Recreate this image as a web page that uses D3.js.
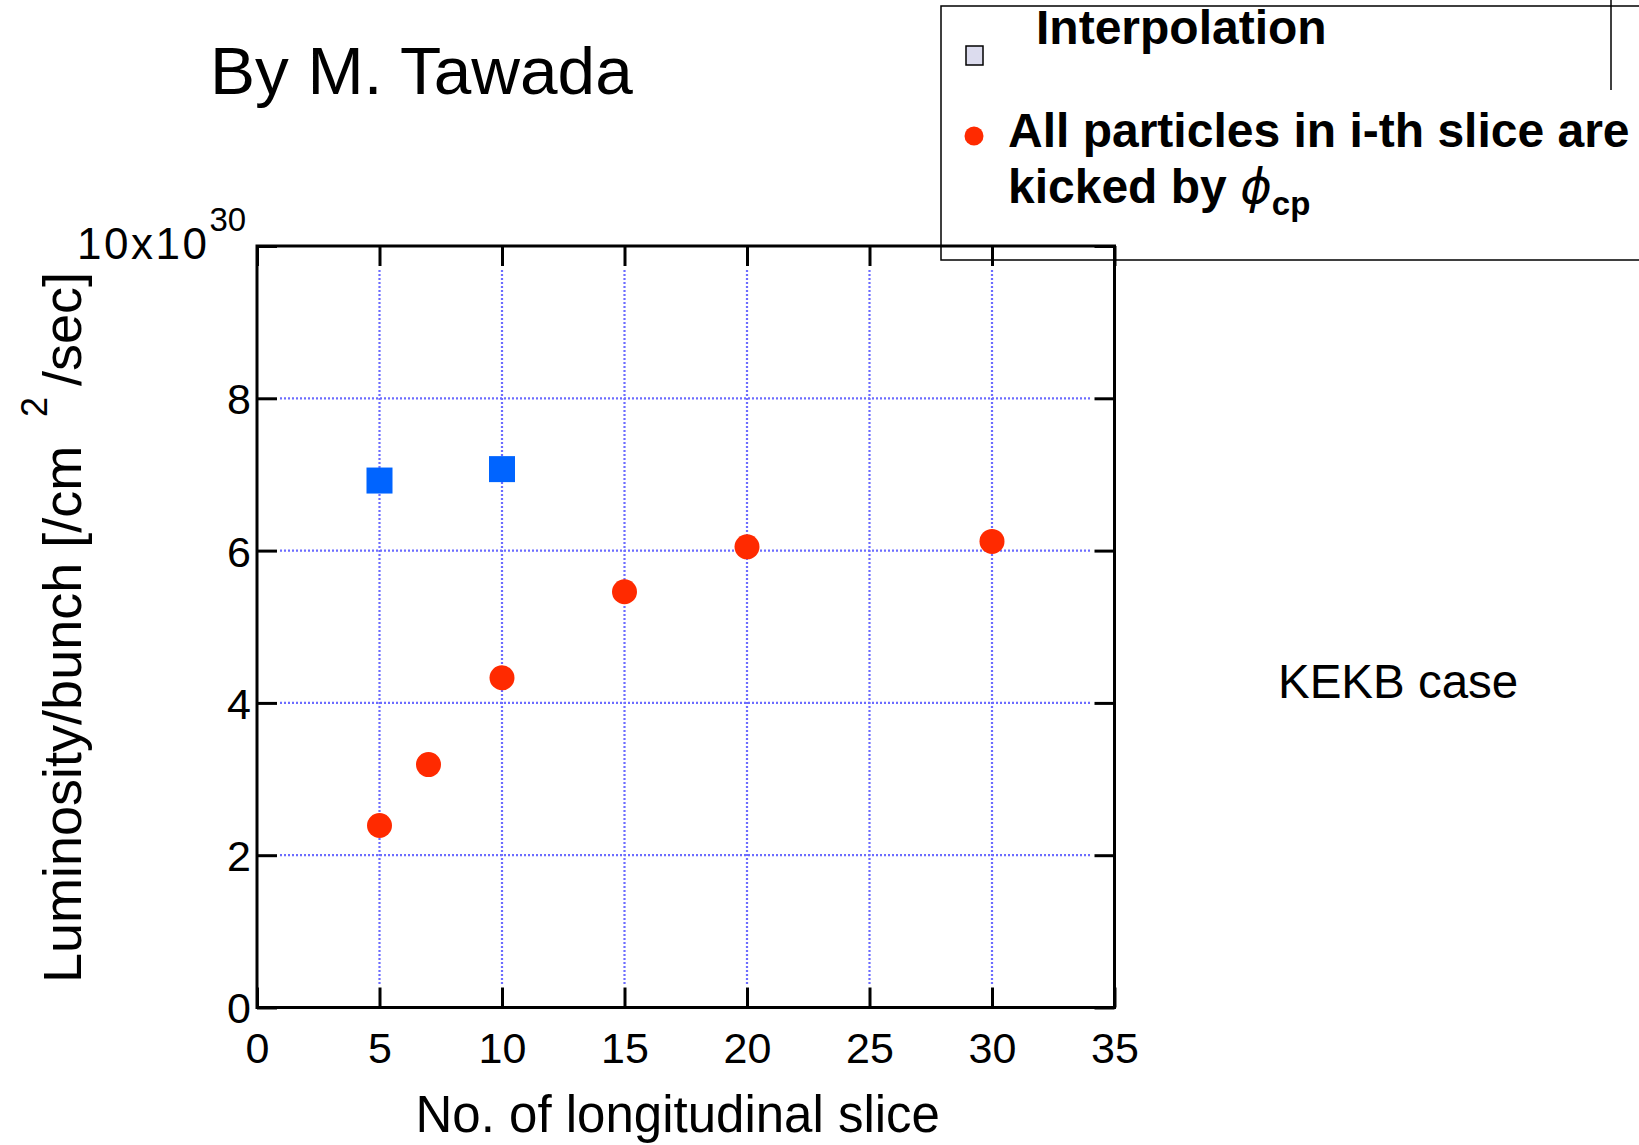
<!DOCTYPE html>
<html>
<head>
<meta charset="utf-8">
<script src="https://cdn.jsdelivr.net/npm/d3@7"></script>
<style>
  html, body { margin: 0; padding: 0; background: #fff; }
  svg { display: block; }
  text { font-family: "Liberation Sans", Arial, sans-serif; fill: #000; }
</style>
</head>
<body>
<svg id="chart" width="1639" height="1145"></svg>
<script>
// ---- data ----
const xTickValues = [0, 5, 10, 15, 20, 25, 30, 35];
const yTickValues = [0, 2, 4, 6, 8, 10];
const yTickLabels = ["0", "2", "4", "6", "8", ""];
const xDomain = [0, 35];
const yDomain = [0, 10];

const interpX = [5, 10];
const interpY = [6.92, 7.07];

const kickX = [5, 7, 10, 15, 20, 30];
const kickY = [2.39, 3.19, 4.33, 5.46, 6.05, 6.12];

const titleText = "By M. Tawada";
const caseText = "KEKB case";
const xLabel = "No. of longitudinal slice";
const yLabelMain = "Luminosity/bunch [/cm";
const yLabelSup = "2";
const yLabelEnd = "/sec]";
const legendInterp = "Interpolation";
const legendKick1 = "All particles in i-th slice are";
const legendKick2 = "kicked by ";

// ---- layout ----
const svg = d3.select("#chart");
const L = 257, R = 1114.5, T = 246, B = 1007.5;
const x = d3.scaleLinear().domain(xDomain).range([L, R]);
const y = d3.scaleLinear().domain(yDomain).range([B, T]);
const tickLen = 20;
const blue = "#0064ff", red = "#ff2a00", grid = "#6c6cff";

svg.append("rect").attr("width", 1639).attr("height", 1145).attr("fill", "#fff");

// legend box (drawn first, plot frame overlays)
const lg = svg.append("g");
lg.append("rect").attr("x", 941).attr("y", 6).attr("width", 760).attr("height", 254)
  .attr("fill", "#fff").attr("stroke", "#000").attr("stroke-width", 1.5);
lg.append("line").attr("x1", 1611).attr("x2", 1611).attr("y1", 0).attr("y2", 90)
  .attr("stroke", "#000").attr("stroke-width", 1.5);
lg.append("rect").attr("x", 966).attr("y", 46).attr("width", 17).attr("height", 19)
  .attr("fill", "#dcdcee").attr("stroke", "#000").attr("stroke-width", 1.5);
lg.append("circle").attr("cx", 974).attr("cy", 136).attr("r", 9.5).attr("fill", red);
lg.append("text").attr("x", 1036).attr("y", 44).attr("font-size", 48).attr("font-weight", "bold").text(legendInterp);
lg.append("text").attr("x", 1008).attr("y", 147).attr("font-size", 48).attr("font-weight", "bold").text(legendKick1);
const k2 = lg.append("text").attr("x", 1008).attr("y", 203).attr("font-size", 48).attr("font-weight", "bold");
k2.append("tspan").text(legendKick2);
k2.append("tspan").attr("font-weight", "normal").attr("font-style", "italic").attr("font-family", "DejaVu Sans, sans-serif").text("\u03D5");
k2.append("tspan").attr("font-size", 33).attr("dy", 12).text("cp");

// gridlines
const gg = svg.append("g").attr("stroke", grid).attr("stroke-width", 2.2).attr("stroke-dasharray", "2,2");
gg.selectAll("line.v").data(xTickValues.filter(d => d > xDomain[0] && d < xDomain[1])).join("line")
  .attr("x1", d => x(d)).attr("x2", d => x(d))
  .attr("y1", T + tickLen + 4).attr("y2", B - tickLen - 3);
gg.selectAll("line.h").data(yTickValues.filter(d => d > yDomain[0] && d < yDomain[1])).join("line")
  .attr("y1", d => y(d)).attr("y2", d => y(d))
  .attr("x1", L + tickLen + 3).attr("x2", R - tickLen - 3);

// axes with inward ticks
const axisStyle = g => {
  g.select(".domain").remove();
  g.selectAll(".tick line").attr("stroke", "#000").attr("stroke-width", 3);
};
svg.append("g").attr("transform", `translate(0,${B})`)
  .call(d3.axisBottom(x).tickValues(xTickValues).tickSizeInner(-tickLen).tickSizeOuter(0).tickPadding(0).tickFormat(d3.format("d")))
  .call(axisStyle)
  .call(g => g.selectAll(".tick text").attr("font-size", 43).attr("font-family", "Liberation Sans, Arial, sans-serif")
    .attr("fill", "#000").attr("dy", null).attr("y", 55));
svg.append("g").attr("transform", `translate(0,${T})`)
  .call(d3.axisTop(x).tickValues(xTickValues).tickSizeInner(-tickLen).tickSizeOuter(0).tickFormat(""))
  .call(axisStyle);
svg.append("g").attr("transform", `translate(${L},0)`)
  .call(d3.axisLeft(y).tickValues(yTickValues).tickSizeInner(-tickLen).tickSizeOuter(0).tickPadding(0)
    .tickFormat((d, i) => yTickLabels[i]))
  .call(axisStyle)
  .call(g => g.selectAll(".tick text").attr("font-size", 43).attr("font-family", "Liberation Sans, Arial, sans-serif")
    .attr("fill", "#000").attr("x", -6).attr("dy", "0.36em"));
svg.append("g").attr("transform", `translate(${R},0)`)
  .call(d3.axisRight(y).tickValues(yTickValues).tickSizeInner(-tickLen).tickSizeOuter(0).tickFormat(""))
  .call(axisStyle);

// frame
svg.append("rect").attr("x", L).attr("y", T).attr("width", R - L).attr("height", B - T)
  .attr("fill", "none").attr("stroke", "#000").attr("stroke-width", 3);

// markers
const sq = 26;
svg.append("g").selectAll("rect").data(interpX.map((d, i) => [d, interpY[i]])).join("rect")
  .attr("x", d => x(d[0]) - sq / 2).attr("y", d => y(d[1]) - sq / 2)
  .attr("width", sq).attr("height", sq).attr("fill", blue);
svg.append("g").selectAll("circle").data(kickX.map((d, i) => [d, kickY[i]])).join("circle")
  .attr("cx", d => x(d[0])).attr("cy", d => y(d[1])).attr("r", 12.5).attr("fill", red);

// y scale multiplier label
const mult = svg.append("text").attr("x", 77).attr("y", 259).attr("font-size", 44);
mult.append("tspan").attr("letter-spacing", 2.5).text("10x10");
mult.append("tspan").attr("font-size", 33).attr("dy", -28).attr("dx", 0).text("30");

// axis titles
svg.append("text").attr("x", (L + R) / 2 - 8).attr("y", 1132).attr("text-anchor", "middle")
  .attr("font-size", 51).text(xLabel);
const yl = svg.append("g").attr("transform", "translate(81,983) rotate(-90)");
yl.append("text").attr("x", 0).attr("y", 0).attr("font-size", 54).text(yLabelMain);
yl.append("text").attr("x", 566).attr("y", -34).attr("font-size", 36).text(yLabelSup);
yl.append("text").attr("x", 597).attr("y", 0).attr("font-size", 54).text(yLabelEnd);

// annotations
svg.append("text").attr("x", 210).attr("y", 94).attr("font-size", 67.5).text(titleText);
svg.append("text").attr("x", 1278).attr("y", 698).attr("font-size", 47.5).text(caseText);
</script>
</body>
</html>
